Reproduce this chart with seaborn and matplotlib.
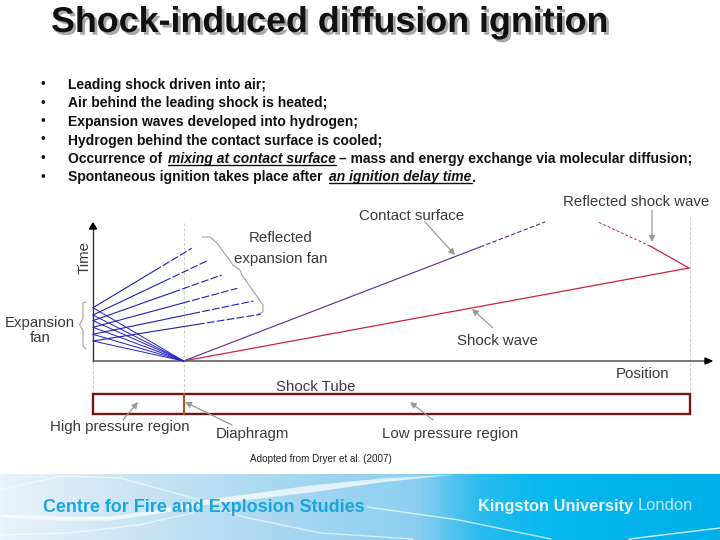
import numpy as np
import pandas as pd
import matplotlib
matplotlib.use("Agg")
import matplotlib.pyplot as plt
import matplotlib.patheffects as pe
from matplotlib.colors import LinearSegmentedColormap
from matplotlib.patches import Rectangle, FancyArrowPatch
import seaborn as sns

# ---------- content ----------
title = "Shock-induced diffusion ignition"
bullets = ["Leading shock driven into air;",
           "Air behind the leading shock is heated;",
           "Expansion waves developed into hydrogen;",
           "Hydrogen behind the contact surface is cooled;",
           None, None]
origin = (93, 361)
diaphragm = (183.5, 361)
fan_left_y = [307.7, 315, 320.7, 327.3, 334.3, 341]
refl_end_x = [191.7, 206.7, 221.7, 237.3, 253.3, 260.7]
refl_end_y = [248.3, 261, 275, 288.3, 301, 314.3]
contact_x = [183.5, 480, 545]
contact_y = [361, 247, 222]
shock_x = [183.5, 689]
shock_y = [361, 268]
reflected_x = [689, 650, 598]
reflected_y = [268, 246, 222]

sns.set_theme(style="white", rc={"axes.grid": False})
plt.rcParams["font.family"] = ["Liberation Sans", "DejaVu Sans"]

fig = plt.figure(figsize=(7.2, 5.4), dpi=100, facecolor="white")
ax = fig.add_axes([0, 0, 1, 1])
ax.set_xlim(0, 720)
ax.set_ylim(540, 0)
ax.axis("off")

# ---------- footer ----------
cmap = LinearSegmentedColormap.from_list(
    "band", [(0, "#e9f3f9"), (0.12, "#d5e9f5"), (0.42, "#a3d6f0"),
             (0.58, "#8ccff0"), (0.66, "#30bdee"), (0.75, "#08b8ee"), (1, "#00aee9")])
ax.imshow(np.linspace(0, 1, 720)[None, :], extent=(0, 720, 540, 474),
          aspect="auto", cmap=cmap, zorder=0)
ax.set_xlim(0, 720)
ax.set_ylim(540, 0)
main_x = [0, 60, 110, 160, 207, 260, 310, 380, 455]
main_top = [514, 516, 516, 509, 499, 492, 485, 478, 474]
main_bot = [517, 520, 520, 513, 504, 498, 492, 482, 474]
ax.fill_between(main_x, main_top, main_bot, color="white", lw=0, alpha=.7, zorder=1)
thin_a_x = [0, 60, 120, 193, 243, 321, 413]
thin_a_y = [490, 476, 478, 498, 517, 533, 539]
thin_b_x = [367, 459, 551]
thin_b_y = [507, 520, 539]
thin_c_x = [0, 69, 138, 193]
thin_c_y = [535, 533, 525, 513]
thin_d_x = [629, 720]
thin_d_y = [539, 528]
for sx, sy, a in [(thin_a_x, thin_a_y, .6), (thin_b_x, thin_b_y, .7),
                  (thin_c_x, thin_c_y, .6), (thin_d_x, thin_d_y, .8)]:
    ax.plot(sx, sy, color="white", lw=1.0, alpha=a, zorder=1)

# ---------- title ----------
ax.text(51, 32, title, fontsize=25.8, fontweight="bold", color="#111111", va="baseline", zorder=3,
        path_effects=[pe.withSimplePatchShadow(offset=(2, -2), shadow_rgbFace="#a9a9a9", alpha=1)])

# ---------- bullets ----------
ys = [85, 103.5, 122, 140.5, 159, 177.5]
style = dict(fontsize=10, color="#111111", va="center", fontweight="bold")
for y, b in zip(ys, bullets):
    ax.text(43, y, "\u2022", fontsize=9.5, color="#111111", ha="center", va="center")
    if b:
        ax.text(68, y, b, **style)
ax.text(68, ys[4], "Occurrence of", **style)
ax.text(168, ys[4], "mixing at contact surface", style="italic", **style)
ax.text(339, ys[4], "\u2013 mass and energy exchange via molecular diffusion;", **style)
ax.text(68, ys[5], "Spontaneous ignition takes place after", **style)
ax.text(329, ys[5], "an ignition delay time", style="italic", **style)
ax.text(472, ys[5], ".", **style)
ax.plot([168, 336], [165, 165], color="#111111", lw=1)
ax.plot([329, 472], [183, 183], color="#111111", lw=1)

# ---------- diagram lines ----------
records = []
for i, y in enumerate(fan_left_y):
    records += [(f"fan{i}", diaphragm[0], diaphragm[1]), (f"fan{i}", origin[0], y)]
df = pd.DataFrame(records, columns=["line", "x", "y"])
sns.lineplot(data=df, x="x", y="y", units="line", estimator=None, sort=False,
             color="#2020c8", lw=0.7, ax=ax, zorder=4)
solid_part = 0.62
for y0, x1, y1 in zip(fan_left_y, refl_end_x, refl_end_y):
    xm = origin[0] + solid_part * (x1 - origin[0])
    ym = y0 + solid_part * (y1 - y0)
    sns.lineplot(x=[origin[0], xm], y=[y0, ym], estimator=None, sort=False, color="#2020b0", lw=0.8, ax=ax, zorder=4)
    sns.lineplot(x=[xm, x1], y=[ym, y1], estimator=None, sort=False, color="#2020b0", lw=0.8,
                 ls=(0, (7, 2)), ax=ax, zorder=4)
sns.lineplot(x=contact_x[:2], y=contact_y[:2], estimator=None, sort=False, color="#5a2a8c", lw=0.8, ax=ax)
sns.lineplot(x=contact_x[1:], y=contact_y[1:], estimator=None, sort=False, color="#5a2a8c", lw=0.8, ls=(0, (4, 2)), ax=ax)
sns.lineplot(x=shock_x, y=shock_y, estimator=None, sort=False, color="#d02040", lw=0.9, ax=ax)
sns.lineplot(x=reflected_x[:2], y=reflected_y[:2], estimator=None, sort=False, color="#d02040", lw=0.9, ax=ax)
sns.lineplot(x=reflected_x[1:], y=reflected_y[1:], estimator=None, sort=False, color="#d02040", lw=0.7, ls=(0, (3, 2)), ax=ax)
ax.set_xlabel("")
ax.set_ylabel("")
ax.axis("off")

# ---------- axes and guides ----------
ax.plot([93, 93], [228, 361], color="#333333", lw=1.0, zorder=3)
ax.plot([93, 708], [361, 361], color="#555555", lw=1.1, zorder=3)
ax.fill([93, 89.5, 96.5], [223, 229, 229], color="black", zorder=5)
ax.fill([712, 705, 705], [361, 358, 364], color="black", zorder=5)
for x, y0, y1 in [(93, 361, 394), (183.5, 223, 394), (689.5, 217, 394)]:
    ax.plot([x, x], [y0, y1], color="#cccccc", lw=0.7, ls=(0, (3, 2)), zorder=2)

# ---------- tube ----------
ax.add_patch(Rectangle((93, 394), 597, 20, fill=False, ec="#6e1a1a", lw=1.7, zorder=4))
ax.plot([183.5, 183.5], [394, 414], color="#b0561c", lw=1.5, zorder=5)

# ---------- gray callouts ----------
arrows = [((425, 222), (455, 255)), ((652, 210), (652, 242)),
          ((493, 328), (472, 309)), ((433, 420), (410, 402)),
          ((232, 425), (185, 402)), ((123, 420), (138, 402))]
for a, b in arrows:
    ax.add_patch(FancyArrowPatch(a, b, arrowstyle="-|>", mutation_scale=9,
                 color="#999999", lw=0.9, shrinkA=0, shrinkB=0, zorder=5))
brace_x = [202, 210, 217, 233, 240, 242, 263, 263, 258]
brace_y = [237, 237, 243, 265, 270, 275, 305, 312, 314]
ax.plot(brace_x, brace_y, color="#a0a0a0", lw=0.8, zorder=3)
brace2_x = [86, 83, 83, 79.5, 83, 83, 86]
brace2_y = [302, 303, 318, 325, 330, 346, 349]
ax.plot(brace2_x, brace2_y, color="#a0a0a0", lw=0.8, zorder=3)

# ---------- diagram labels ----------
lab = dict(fontsize=10.8, color="#3a3a3a", va="center", zorder=6)
ax.text(359, 215.5, "Contact surface", **lab)
ax.text(563, 202, "Reflected shock wave", **lab)
ax.text(281, 238.5, "Reflected", ha="center", **lab)
ax.text(281, 258.5, "expansion fan", ha="center", **lab)
ax.text(40, 322.5, "Expansion", ha="center", **lab)
ax.text(40, 337.5, "fan", ha="center", **lab)
ax.text(85, 258, "Time", rotation=90, ha="center", **lab)
ax.text(457, 341, "Shock wave", **lab)
ax.text(616, 374, "Position", **lab)
ax.text(276, 387, "Shock Tube", **lab)
ax.text(50, 427, "High pressure region", **lab)
ax.text(216, 434, "Diaphragm", **lab)
ax.text(382, 434, "Low pressure region", **lab)
ax.text(320.5, 459, "Adopted from Dryer et al. (2007)", fontsize=7.15, color="#222222", ha="center", va="center")

# ---------- footer text ----------
ax.text(43, 507, "Centre for Fire and Explosion Studies", fontsize=12.9, fontweight="bold", color="#1aa5e0", va="center", zorder=6)
ax.text(478, 506, "Kingston University", fontsize=11.9, fontweight="bold", color="#e8f6fc", va="center", zorder=6)
ax.text(638, 506, "London", fontsize=11.9, color="#bfe9f8", va="center", zorder=6)

fig.savefig("out.png", dpi=100)
